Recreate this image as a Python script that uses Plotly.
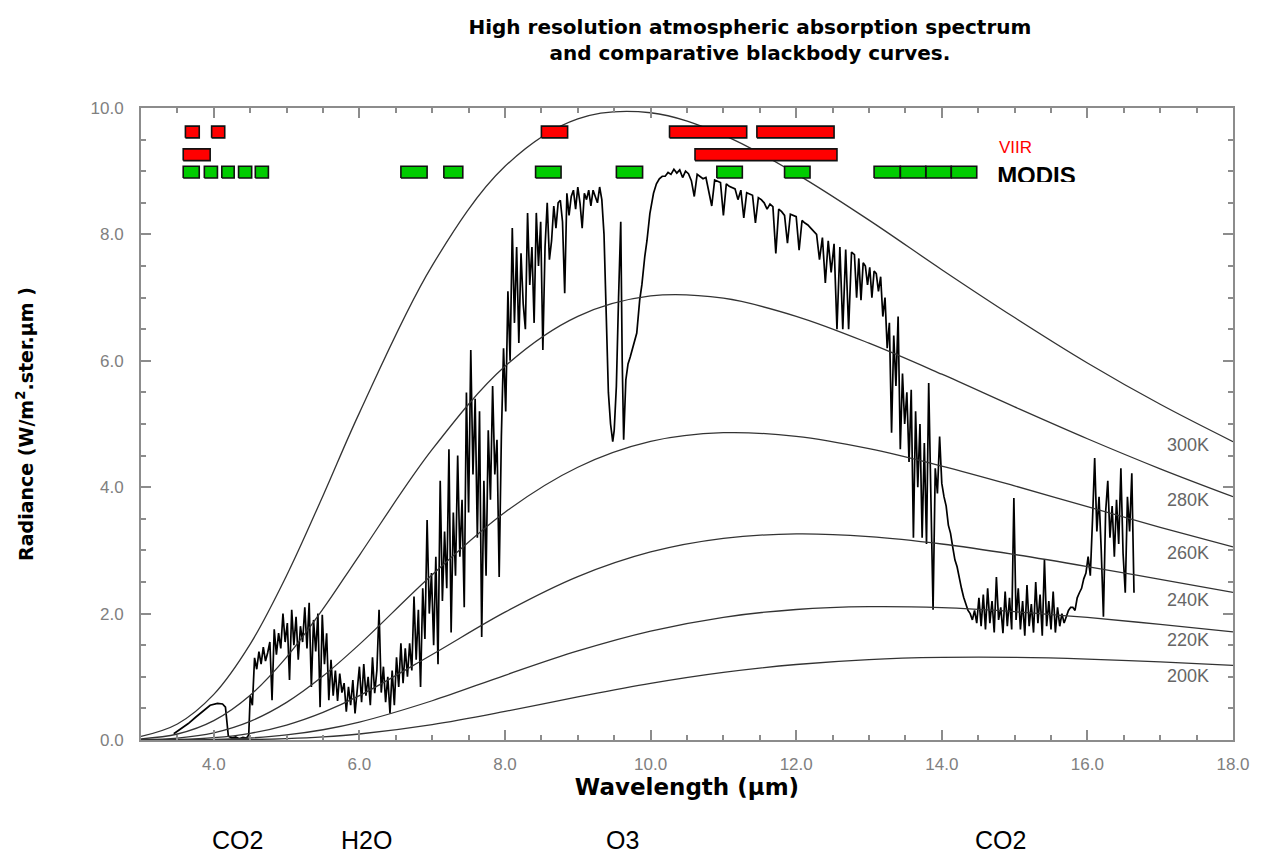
import plotly.graph_objects as go

# ---------------- data ----------------
# blackbody curves (radiance W/m2/sr/um) read at these wavelengths
bb_wl = [3.0, 3.5, 4.0, 4.5, 5.0, 5.5, 6.0, 7.0, 8.0, 9.0, 10.0, 11.0, 12.0, 13.0, 14.0, 15.0, 16.0, 17.0, 18.0]
bb_300 = [0.056, 0.254, 0.722, 1.517, 2.602, 3.865, 5.176, 7.507, 9.077, 9.829, 9.925, 9.572, 8.958, 8.226, 7.442, 6.684, 5.966, 5.312, 4.721]
bb_280 = [0.018, 0.095, 0.307, 0.709, 1.312, 2.073, 2.923, 4.597, 5.912, 6.703, 7.026, 6.990, 6.704, 6.279, 5.788, 5.271, 4.767, 4.291, 3.850]
bb_260 = [0.005, 0.031, 0.114, 0.295, 0.595, 1.011, 1.513, 2.615, 3.605, 4.316, 4.724, 4.862, 4.804, 4.609, 4.334, 4.021, 3.691, 3.366, 3.055]
bb_240 = [0.001, 0.008, 0.036, 0.106, 0.237, 0.437, 0.701, 1.353, 2.023, 2.585, 2.975, 3.190, 3.260, 3.218, 3.101, 2.935, 2.745, 2.540, 2.337]
bb_220 = [0.0002, 0.0017, 0.009, 0.032, 0.080, 0.162, 0.283, 0.621, 1.024, 1.409, 1.723, 1.942, 2.065, 2.109, 2.093, 2.030, 1.939, 1.829, 1.712]
bb_200 = [0.0, 0.0003, 0.002, 0.007, 0.022, 0.049, 0.095, 0.244, 0.452, 0.682, 0.896, 1.070, 1.195, 1.273, 1.306, 1.307, 1.281, 1.236, 1.180]
bb_labels = ["300K", "280K", "260K", "240K", "220K", "200K"]
bb_label_level = [4.67, 3.80, 2.96, 2.22, 1.58, 1.01]

# measured spectrum, segment A (explicit samples)
spec_a_wl = [3.45, 3.55, 3.65, 3.75, 3.85, 3.95, 4.05, 4.12, 4.16, 4.18, 4.20, 4.25, 4.30, 4.35, 4.40, 4.45, 4.48]
spec_a_rad = [0.10, 0.18, 0.26, 0.36, 0.46, 0.55, 0.58, 0.57, 0.52, 0.30, 0.06, 0.03, 0.05, 0.02, 0.04, 0.03, 0.08]

# segment B: 4.50 .. 9.30 um, sampled every 0.03 um
spec_b_start = 4.50
spec_b_step = 0.03
spec_b_rad = [
    0.70, 0.55, 1.30, 1.12, 1.40, 1.20, 1.47, 1.25, 1.38, 1.55,
    0.63, 1.75, 1.35, 1.69, 1.45, 2.00, 1.55, 1.85, 0.95, 2.06,
    1.50, 1.95, 1.27, 1.80, 1.55, 2.10, 1.45, 2.17, 0.84, 1.90,
    1.40, 2.00, 0.52, 1.98, 1.20, 1.69, 0.63, 1.27, 0.70, 1.10,
    0.62, 1.05, 0.75, 0.90, 0.45, 0.84, 0.55, 0.95, 0.42, 0.80,
    1.16, 0.60, 1.20, 0.70, 1.00, 0.55, 1.31, 0.74, 1.10, 2.06,
    0.75, 1.16, 0.60, 1.00, 0.42, 1.10, 0.55, 1.31, 0.84, 1.53,
    0.90, 1.45, 1.00, 1.53, 1.10, 2.27, 1.27, 2.06, 0.84, 2.40,
    1.60, 3.48, 2.00, 2.64, 1.50, 2.90, 1.20, 4.10, 2.20, 3.30,
    2.40, 4.60, 1.70, 3.60, 2.60, 4.50, 2.90, 3.80, 2.10, 5.50,
    3.60, 6.17, 4.20, 5.40, 3.20, 5.20, 1.63, 4.10, 2.60, 4.90,
    3.80, 5.60, 4.20, 4.75, 2.58, 4.80, 6.20, 5.20, 7.10, 6.00,
    8.10, 6.60, 7.80, 6.28, 7.70, 6.90, 6.50, 8.34, 7.20, 7.80,
    6.60, 8.34, 7.50, 8.20, 6.17, 7.80, 8.50, 7.60, 7.90, 8.45,
    8.10, 8.50, 8.54, 8.20, 7.07, 8.65, 8.30, 8.60, 8.70, 8.40,
    8.75, 8.50, 8.10, 8.65, 8.55, 8.70, 8.45, 8.70, 8.60, 8.50,
    8.75,
]

# segment D: ozone band (explicit samples)
spec_d_wl = [9.33, 9.36, 9.38, 9.40, 9.42, 9.45, 9.48, 9.50, 9.53, 9.56, 9.59, 9.61, 9.63, 9.66,
             9.69, 9.72, 9.76, 9.81, 9.85, 9.88, 9.92, 9.95, 9.99, 10.04, 10.08, 10.12, 10.16]
spec_d_rad = [8.55, 8.00, 7.00, 6.00, 5.50, 5.00, 4.72, 4.90, 5.60, 7.00, 8.20, 6.00, 4.75, 5.70,
              5.95, 6.06, 6.25, 6.44, 6.96, 7.20, 7.65, 7.90, 8.33, 8.65, 8.80, 8.88, 8.92]

# segment E: window 10.20 .. 12.76 um, every 0.04 um
spec_e_start = 10.20
spec_e_step = 0.04
spec_e_rad = [
    8.92, 8.98, 8.95, 9.03, 8.97, 9.02, 8.90, 9.00, 8.96, 8.85,
    8.60, 8.95, 8.92, 8.88, 8.90, 8.70, 8.45, 8.86, 8.84, 8.82,
    8.30, 8.80, 8.76, 8.74, 8.72, 8.55, 8.70, 8.26, 8.66, 8.64,
    8.62, 8.18, 8.58, 8.55, 8.50, 8.40, 8.48, 8.44, 7.70, 8.40,
    8.36, 8.30, 7.86, 8.32, 8.30, 8.28, 7.75, 8.22, 8.18, 8.15,
    8.10, 8.05, 8.00, 7.60, 7.95, 7.23, 7.90, 7.40, 7.85, 6.50,
    7.80, 6.50, 7.76, 6.50, 7.72,
]

# segment F: 12.80 .. 16.64 um, every 0.03 um
spec_f_start = 12.80
spec_f_step = 0.03
spec_f_rad = [
    7.68, 7.00, 7.62, 6.96, 7.55, 7.50, 7.20, 7.48, 7.00, 7.42,
    7.38, 7.10, 7.33, 6.70, 7.00, 6.20, 6.60, 4.86, 6.40, 5.60,
    6.70, 4.60, 5.80, 5.00, 5.50, 4.40, 5.54, 3.20, 5.20, 4.00,
    5.00, 3.20, 4.70, 3.10, 5.65, 3.60, 2.06, 4.30, 3.90, 4.80,
    4.06, 3.85, 3.70, 3.40, 3.27, 3.05, 2.85, 2.74, 2.55, 2.40,
    2.26, 2.15, 2.05, 2.00, 1.90, 2.05, 1.85, 2.25, 1.80, 2.30,
    1.75, 2.40, 1.85, 2.20, 1.70, 2.58, 1.90, 2.10, 1.69, 2.35,
    1.80, 2.25, 1.75, 3.83, 1.90, 2.40, 1.75, 2.20, 1.65, 2.45,
    1.80, 2.15, 1.70, 2.50, 1.85, 2.30, 1.65, 2.85, 1.80, 2.20,
    1.75, 2.35, 1.70, 2.10, 1.80, 2.00, 1.85, 1.95, 2.05, 2.10,
    2.10, 2.05, 2.25, 2.33, 2.40, 2.55, 2.64, 2.90, 2.60, 3.48,
    4.46, 3.30, 3.85, 3.00, 1.95, 3.60, 4.10, 3.20, 3.70, 2.90,
    3.80, 3.10, 4.30, 2.95, 2.33, 3.85, 3.30, 4.22, 2.33,
]

# instrument bands (um)
viirs_row1_start = [3.61, 3.97, 8.50, 10.26, 11.46]
viirs_row1_end = [3.80, 4.15, 8.86, 11.32, 12.52]
viirs_row2_start = [3.58, 10.61]
viirs_row2_end = [3.95, 12.56]
modis_start = [3.58, 3.87, 4.11, 4.34, 4.57, 6.57, 7.16, 8.42, 9.53, 10.91, 11.84, 13.07, 13.43, 13.78, 14.13]
modis_end = [3.80, 4.05, 4.28, 4.52, 4.75, 6.93, 7.42, 8.77, 9.89, 11.26, 12.19, 13.43, 13.78, 14.13, 14.48]

gas_labels = ["CO2", "H2O", "O3", "CO2"]
gas_label_wl = [4.33, 6.10, 9.61, 14.80]

# ---------------- build ----------------
def grid(start, step, vals):
    return [round(start + i * step, 4) for i in range(len(vals))]

spec_wl = (spec_a_wl + grid(spec_b_start, spec_b_step, spec_b_rad) + spec_d_wl
           + grid(spec_e_start, spec_e_step, spec_e_rad) + grid(spec_f_start, spec_f_step, spec_f_rad))
spec_rad = spec_a_rad + spec_b_rad + spec_d_rad + spec_e_rad + spec_f_rad

fig = go.Figure()

fig.add_trace(go.Scatter(x=spec_wl, y=spec_rad, mode="lines",
                         line=dict(color="black", width=1.7), hoverinfo="skip"))

for vals in [bb_300, bb_280, bb_260, bb_240, bb_220, bb_200]:
    fig.add_trace(go.Scatter(x=bb_wl, y=vals, mode="lines",
                             line=dict(color="#333333", width=1.3, shape="spline"),
                             hoverinfo="skip"))


def boxes(starts, ends, level, thick):
    xs, ys = [], []
    lo, hi = level - thick / 2, level + thick / 2
    for s, e in zip(starts, ends):
        xs += [s, e, e, s, s, None]
        ys += [lo, lo, hi, hi, lo, None]
    return xs, ys


for starts, ends, level, col in [
    (viirs_row1_start, viirs_row1_end, 9.62, "#ff0000"),
    (viirs_row2_start, viirs_row2_end, 9.26, "#ff0000"),
    (modis_start, modis_end, 8.985, "#00cc00"),
]:
    bx, by = boxes(starts, ends, level, 0.185)
    fig.add_trace(go.Scatter(x=bx, y=by, mode="lines", fill="toself", fillcolor=col,
                             line=dict(color="#111111", width=1.6), hoverinfo="skip"))

# clipped "MODIS" label (bottom of text cut off as in the original)
fig.add_trace(go.Scatter(x=[14.76], y=[0.06], mode="text", text=["<b>MODIS</b>"],
                         textposition="middle right", cliponaxis=True,
                         textfont=dict(family="Liberation Sans", size=24, color="black"),
                         xaxis="x2", yaxis="y2", hoverinfo="skip"))

annotations = []
for lab, lev in zip(bb_labels, bb_label_level):
    annotations.append(dict(x=17.38, y=lev, xref="x", yref="y", text=lab, showarrow=False,
                            font=dict(family="Liberation Sans", size=18, color="#666666")))
for lab, wl in zip(gas_labels, gas_label_wl):
    annotations.append(dict(x=wl, y=-0.158, xref="x", yref="paper", text=lab, showarrow=False,
                            yanchor="middle",
                            font=dict(family="Liberation Sans", size=25, color="black")))
annotations.append(dict(x=14.76, y=9.375, xref="x", yref="y", text="VIIR", showarrow=False,
                        xanchor="left", yanchor="middle",
                        font=dict(family="Liberation Sans", size=17, color="#ff0000")))

axis_common = dict(
    showgrid=False, zeroline=False, showline=True, linecolor="#8c8c8c", linewidth=2,
    mirror="ticks", ticks="inside", ticklen=10, tickwidth=1.5, tickcolor="#8c8c8c",
    tickfont=dict(family="Liberation Sans", size=17, color="#808080"),
)

fig.update_layout(
    width=1268, height=855,
    margin=dict(l=141, r=35, t=108, b=115),
    paper_bgcolor="white", plot_bgcolor="rgba(0,0,0,0)",
    showlegend=False,
    title=dict(text="<b>High resolution atmospheric absorption spectrum<br>and comparative blackbody curves.</b>",
               x=0.5576, xanchor="center", xref="paper", y=1 - 34 / 855, yanchor="middle", yref="container",
               font=dict(family="DejaVu Sans", size=20, color="black")),
    xaxis=dict(range=[3, 18], tick0=0, dtick=2, tickformat=".1f",
               minor=dict(dtick=0.5, tick0=0, ticks="inside", ticklen=5, tickcolor="#8c8c8c"),
               ticklabelstandoff=8,
               title=dict(text="<b>Wavelength (µm)</b>", standoff=4,
                          font=dict(family="DejaVu Sans", size=23, color="black")),
               **axis_common),
    yaxis=dict(range=[0, 10], tick0=0, dtick=2, tickformat=".1f",
               minor=dict(dtick=0.5, tick0=0, ticks="inside", ticklen=5, tickcolor="#8c8c8c"),
               ticklabelstandoff=12,
               title=dict(text="<b>Radiance (W/m<sup>2</sup>.ster.µm )</b>", standoff=52,
                          font=dict(family="DejaVu Sans", size=19, color="black")),
               **axis_common),
    xaxis2=dict(range=[3, 18], domain=[0, 1], anchor="y2", visible=False),
    yaxis2=dict(range=[0, 1], domain=[(740 - 182) / 632, 1], anchor="x2", visible=False),
    annotations=annotations,
)

fig.write_html("out.html", config={"displayModeBar": False},
               post_script="document.body.style.margin='0';document.body.style.overflow='hidden';")
